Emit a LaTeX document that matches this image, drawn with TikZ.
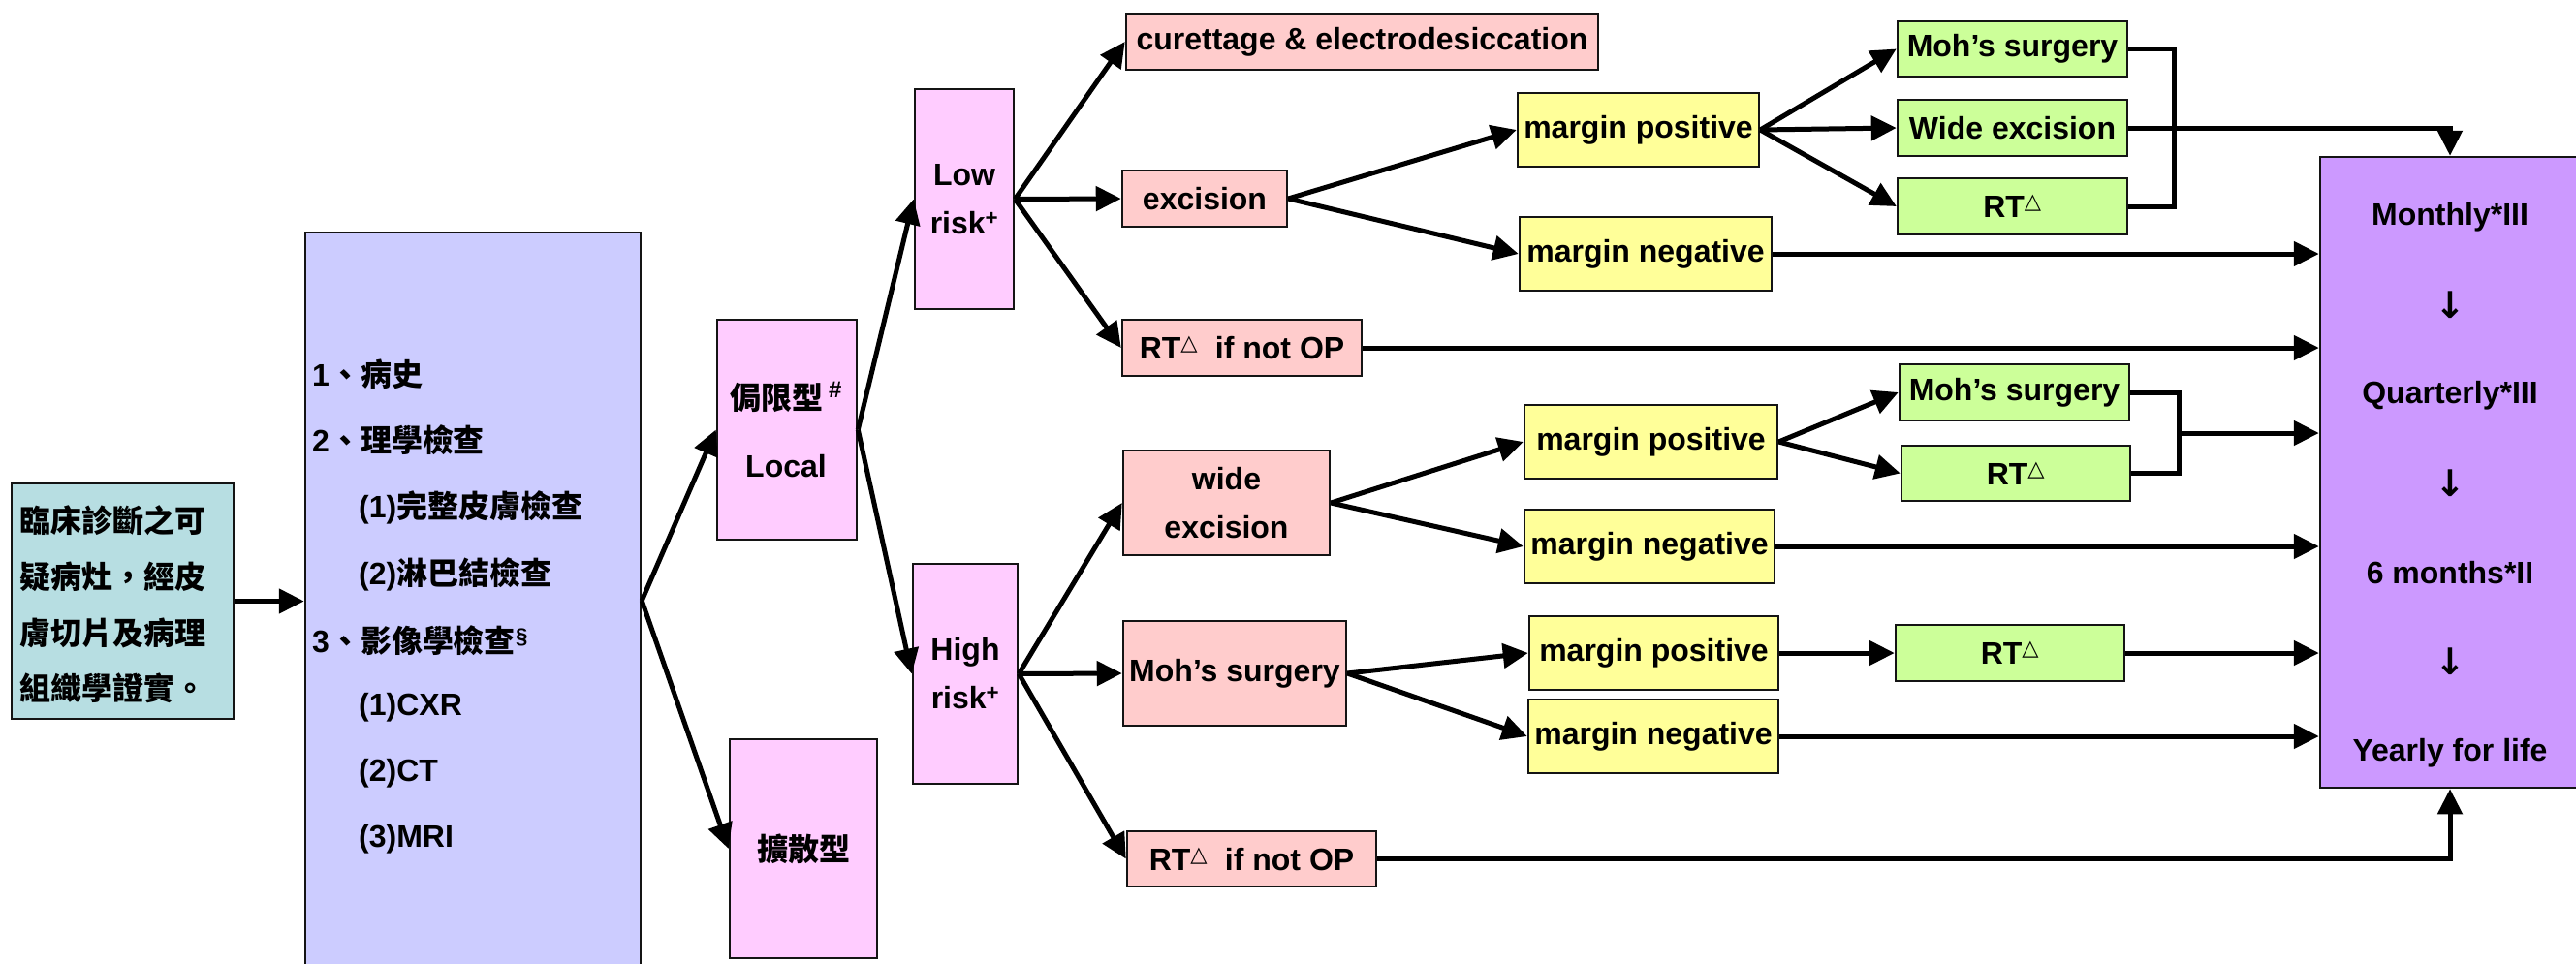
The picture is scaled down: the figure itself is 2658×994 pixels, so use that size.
\documentclass[tikz,border=0pt]{standalone}
\usepackage{fontspec}
\setmainfont{Liberation Sans}
\newfontfamily\cjk{Noto Sans CJK TC}
\newfontfamily\tri{DejaVu Sans}
\usetikzlibrary{arrows.meta}
\definecolor{cyanfill}{RGB}{183,222,226}
\definecolor{lavfill}{RGB}{204,204,255}
\definecolor{pinkfill}{RGB}{255,204,255}
\definecolor{salmonfill}{RGB}{255,204,204}
\definecolor{yellowfill}{RGB}{255,255,153}
\definecolor{greenfill}{RGB}{204,255,153}
\definecolor{purplefill}{RGB}{204,153,255}
\definecolor{edge}{RGB}{20,20,20}
\newcommand\mybox[7]{\node[box, fill=#2, minimum width={#5-#3}, minimum height={#6-#4}] (#1) at ({(#3+#5)/2},{(#4+#6)/2}) {#7};}
\newcommand\tsup{\textsuperscript{{\tri\mdseries △}}}
\newcommand\darr{{\tri\bfseries\fontsize{38}{38}\selectfont ↓}}
\begin{document}
\begin{tikzpicture}[x=1pt,y=-1pt,
  every node/.style={font=\fontsize{32}{50}\selectfont\bfseries, inner sep=0pt},
  box/.style={draw=edge, line width=2.5pt, rectangle, inner sep=0pt, align=center},
  conn/.style={line width=5pt, -{Triangle[length=26pt,width=25pt]}},
  plain/.style={line width=5pt},
  txt/.style={anchor=west}]
\clip (0,0) rectangle (2658,994);
\fill[white] (0,0) rectangle (2658,994);

% left part
\mybox{cyanb}{cyanfill}{12}{499}{241}{742}{}
\mybox{lav}{lavfill}{315}{240}{661}{1000}{}
\mybox{local}{pinkfill}{740}{330}{884}{557}{}
\mybox{diff}{pinkfill}{753}{763}{905}{989}{{\cjk 擴散型}}
\mybox{low}{pinkfill}{944}{92}{1046}{319}{Low\\risk\textsuperscript{+}}
\mybox{high}{pinkfill}{942}{582}{1050}{809}{High\\risk\textsuperscript{+}}

\node[txt] (c1) at (20,537) {\cjk 臨床診斷之可};
\node[txt] (c2) at (20,595) {\cjk 疑病灶，經皮};
\node[txt] (c3) at (20,653) {\cjk 膚切片及病理};
\node[txt] (c4) at (20,710) {\cjk 組織學證實。};

\node[txt] (l1) at (322,386) {1{\cjk 、病史}};
\node[txt] (l2) at (322,454) {2{\cjk 、理學檢查}};
\node[txt] (l3) at (370,524) {(1){\cjk 完整皮膚檢查}};
\node[txt] (l4) at (370,593) {(2){\cjk 淋巴結檢查}};
\node[txt] (l5) at (322,661) {3{\cjk 、影像學檢查}\textsuperscript{§}};
\node[txt] (l6) at (370,730) {(1)CXR};
\node[txt] (l7) at (370,798) {(2)CT};
\node[txt] (l8) at (370,866) {(3)MRI};

\node (loc1) at (811,410) {{\cjk 侷限型}\,\raisebox{0.35em}{\fontsize{24}{24}\selectfont\#}};
\node (loc2) at (811,481) {Local};

% second column
\mybox{cur}{salmonfill}{1162}{14}{1649}{72}{curettage \& electrodesiccation}
\mybox{exc}{salmonfill}{1158}{176}{1328}{234}{excision}
\mybox{rt1}{salmonfill}{1158}{330}{1405}{388}{RT\tsup\ \ if not OP}
\mybox{wexc}{salmonfill}{1159}{465}{1372}{573}{wide\\excision}
\mybox{mohs}{salmonfill}{1159}{641}{1389}{749}{Moh’s surgery}
\mybox{rt2}{salmonfill}{1163}{858}{1420}{915}{RT\tsup\ \ if not OP}

% margins
\mybox{mp1}{yellowfill}{1566}{96}{1815}{172}{margin positive}
\mybox{mn1}{yellowfill}{1568}{224}{1828}{300}{margin negative}
\mybox{mp2}{yellowfill}{1573}{418}{1834}{494}{margin positive}
\mybox{mn2}{yellowfill}{1573}{526}{1831}{602}{margin negative}
\mybox{mp3}{yellowfill}{1578}{636}{1835}{712}{margin positive}
\mybox{mn3}{yellowfill}{1577}{722}{1835}{798}{margin negative}

% green
\mybox{g1}{greenfill}{1958}{22}{2195}{79}{Moh’s surgery}
\mybox{g2}{greenfill}{1958}{103}{2195}{161}{Wide excision}
\mybox{g3}{greenfill}{1958}{184}{2195}{242}{RT\tsup}
\mybox{g4}{greenfill}{1960}{376}{2197}{434}{Moh’s surgery}
\mybox{g5}{greenfill}{1962}{460}{2198}{517}{RT\tsup}
\mybox{g6}{greenfill}{1956}{645}{2192}{703}{RT\tsup}

% follow-up
\mybox{pur}{purplefill}{2394}{162}{2662}{813}{}
\node (f1) at (2528,224) {Monthly*III};
\node (a1) at (2528,315) {\darr};
\node (f2) at (2528,408) {Quarterly*III};
\node (a2) at (2528,499) {\darr};
\node (f3) at (2528,591) {6 months*II};
\node (a3) at (2528,683) {\darr};
\node (f4) at (2528,777) {Yearly for life};

% connectors
\draw[conn] (cyanb.east) -- (cyanb.east -| lav.west);
\draw[conn] (lav.east) -- (local.west);
\draw[conn] (lav.east) -- (diff.west);
\draw[conn] (local.east) -- (low.west);
\draw[conn] (local.east) -- (high.west);
\foreach \t in {cur,exc,rt1} \draw[conn] (low.east) -- (\t.west);
\foreach \t in {wexc,mohs,rt2} \draw[conn] (high.east) -- (\t.west);
\foreach \t in {mp1,mn1} \draw[conn] (exc.east) -- (\t.west);
\foreach \t in {mp2,mn2} \draw[conn] (wexc.east) -- (\t.west);
\foreach \t in {mp3,mn3} \draw[conn] (mohs.east) -- (\t.west);
\foreach \t in {g1,g2,g3} \draw[conn] (mp1.east) -- (\t.west);
\foreach \t in {g4,g5} \draw[conn] (mp2.east) -- (\t.west);
\draw[conn] (mp3.east) -- (g6.west);

\coordinate (b1) at (2243,0);
\coordinate (b2) at (2248,0);
\coordinate (b2m) at (2248,447);
\draw[plain] (g1.east) -- (g1.east -| b1) -- (g3.east -| b1) -- (g3.east);
\draw[conn] (g2.east) -| (pur.north);
\draw[plain] (g4.east) -- (g4.east -| b2) -- (g5.east -| b2) -- (g5.east);
\draw[conn] (b2m) -- (b2m -| pur.west);
\foreach \s in {mn1,rt1,mn2,g6,mn3} \draw[conn] (\s.east) -- (\s.east -| pur.west);
\draw[conn] (rt2.east) -| (pur.south);
\end{tikzpicture}
\end{document}
